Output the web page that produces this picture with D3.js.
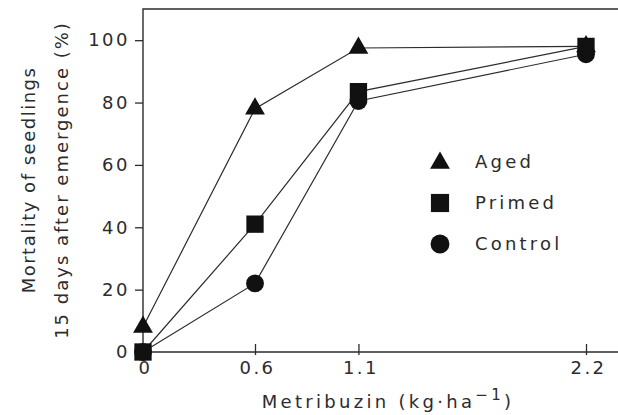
<!DOCTYPE html>
<html>
<head>
<meta charset="utf-8">
<script src="https://cdn.jsdelivr.net/npm/d3@7"></script>
<style>
  body { margin: 0; background: #fff; }
  svg text { font-family: "DejaVu Sans", sans-serif; fill: #2c2c2c; letter-spacing: 2.5px; }
</style>
</head>
<body>
<svg id="chart" width="618" height="415"></svg>
<script>
var doses = [0, 0.6, 1.1, 2.2];
var aged = [8, 78, 97.5, 98];
var primed = [0, 41, 83.5, 98];
var control = [0, 22, 80.5, 95.5];
var yTicks = [0, 20, 40, 60, 80, 100];
var seriesNames = ['Aged', 'Primed', 'Control'];
var seriesShapes = [d3.symbolTriangle, d3.symbolSquare, d3.symbolCircle];

(function () {
  var svg = d3.select('#chart'),
      ink = '#2c2c2c',
      pl = 143, pt = 9, pb = 352, pr = 618;

  // the printed axis is not quite even between 0 and 0.6
  var x = d3.scaleLinear().domain([0, 0.6, 2.2]).range([143, 255, 586]);
  var y = d3.scaleLinear().domain([0, 110]).range([pb, pt]);

  // frame
  svg.append('path')
    .attr('d', 'M' + pr + ',' + pt + 'H' + pl + 'V' + pb + 'H' + pr)
    .attr('fill', 'none').attr('stroke', ink).attr('stroke-width', 1.4);

  // y axis
  var yAxis = svg.append('g').attr('transform', 'translate(' + pl + ',0)')
    .call(d3.axisLeft(y).tickValues(yTicks).tickSize(8).tickPadding(7));
  yAxis.select('.domain').remove();
  yAxis.selectAll('line').attr('stroke', ink).attr('stroke-width', 1.3);
  yAxis.selectAll('text').style('font-size', '18px').attr('fill', ink).attr('dx', 2);

  // x axis, ticks cross the line
  var xAxis = svg.append('g').attr('transform', 'translate(0,' + pb + ')')
    .call(d3.axisBottom(x).tickValues(doses).tickSize(0).tickPadding(9)
      .tickFormat(function (d) { return d === 0 ? '0' : d3.format('.1f')(d); }));
  xAxis.select('.domain').remove();
  xAxis.selectAll('.tick line').attr('y1', -8).attr('y2', 3).attr('stroke', ink).attr('stroke-width', 1.3);
  xAxis.selectAll('.tick').filter(function (d) { return d === 0; }).select('line').remove();
  xAxis.selectAll('text').style('font-size', '18px').attr('fill', ink).attr('dx', 2);

  // series
  var data = [aged, primed, control];
  var line = d3.line().x(function (d, i) { return x(doses[i]); }).y(function (d) { return y(d); });

  data.forEach(function (vals) {
    svg.append('path').datum(vals)
      .attr('d', line)
      .attr('fill', 'none').attr('stroke', ink).attr('stroke-width', 1.2);
  });

  data.forEach(function (vals, s) {
    svg.selectAll('.m' + s).data(vals).enter().append('path')
      .attr('class', 'm' + s)
      .attr('transform', function (d, i) { return 'translate(' + x(doses[i]) + ',' + y(d) + ')'; })
      .attr('d', d3.symbol().type(seriesShapes[s]).size(s === 0 ? 170 : s === 1 ? 300 : 250))
      .attr('fill', '#111');
  });

  // legend
  var legend = svg.append('g').attr('transform', 'translate(440,162)');
  seriesNames.forEach(function (name, i) {
    var g = legend.append('g').attr('transform', 'translate(0,' + (i * 41) + ')');
    g.append('path')
      .attr('d', d3.symbol().type(seriesShapes[i]).size(i === 0 ? 170 : i === 1 ? 330 : 280))
      .attr('transform', i === 0 ? 'translate(0,1)' : null)
      .attr('fill', '#111');
    g.append('text').attr('x', 35).attr('y', 6).style('font-size', '18px')
      .style('letter-spacing', '3.2px').text(name);
  });

  // y title
  var yt = svg.append('text')
    .attr('transform', 'translate(0,180) rotate(-90)')
    .attr('text-anchor', 'middle').style('font-size', '18px');
  yt.append('tspan').attr('x', 0).attr('y', 35).style('letter-spacing', '1.5px').text('Mortality of seedlings');
  yt.append('tspan').attr('x', 0).attr('y', 68).style('letter-spacing', '2px').text('15 days after emergence (%)');

  // x title
  var xt = svg.append('text')
    .attr('x', 388).attr('y', 408)
    .attr('text-anchor', 'middle').style('font-size', '18px').style('letter-spacing', '3.3px');
  xt.append('tspan').text('Metribuzin (kg\u00b7ha');
  xt.append('tspan').attr('dy', -8).style('font-size', '15px').text('\u22121');
  xt.append('tspan').attr('dy', 8).text(')');
})();
</script>
</body>
</html>
